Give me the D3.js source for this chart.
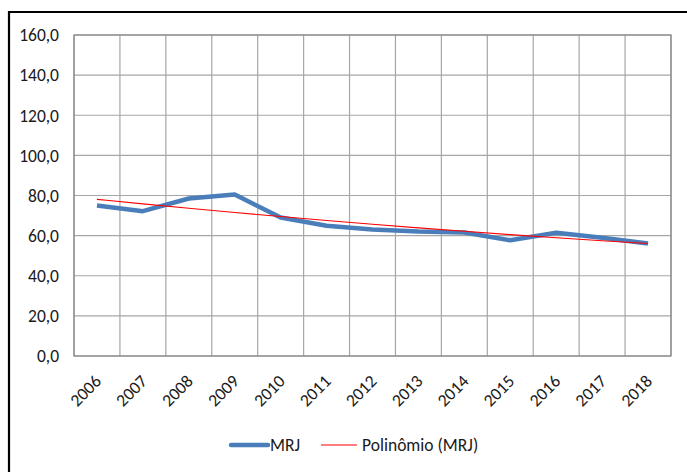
<!DOCTYPE html>
<html>
<head>
<meta charset="utf-8">
<script src="https://cdn.jsdelivr.net/npm/d3@7/dist/d3.min.js"></script>
<style>
  html, body { margin: 0; padding: 0; background: #fff; }
  svg { display: block; }
  text { font-family: Carlito, "Liberation Sans Narrow", "Liberation Sans", sans-serif; fill: #1a1a1a; }
</style>
</head>
<body>
<script>
// Years on the category axis
const years = ["2006","2007","2008","2009","2010","2011","2012","2013","2014","2015","2016","2017","2018"];
// MRJ series values
const mrj = [75.0, 72.2, 78.5, 80.5, 69.0, 64.9, 63.0, 62.0, 61.6, 57.7, 61.4, 58.9, 56.1];
// Value axis ticks
const yTicks = [0, 20, 40, 60, 80, 100, 120, 140, 160];

const W = 687, H = 472;
const plot = { left: 74, top: 35, right: 671, bottom: 356 };
const FS = "17.5px";

// Second-order least-squares trend of the MRJ series
function polyFit2(ys) {
  const s = [0,0,0,0,0], t = [0,0,0];
  ys.forEach((y, i) => {
    let p = 1;
    for (let k = 0; k < 5; k++) { s[k] += p; if (k < 3) t[k] += p * y; p *= i; }
  });
  const A = [[s[0], s[1], s[2]], [s[1], s[2], s[3]], [s[2], s[3], s[4]]];
  const b = t.slice();
  for (let c = 0; c < 3; c++) {
    for (let r = c + 1; r < 3; r++) {
      const f = A[r][c] / A[c][c];
      for (let k = c; k < 3; k++) A[r][k] -= f * A[c][k];
      b[r] -= f * b[c];
    }
  }
  const coef = [0,0,0];
  for (let r = 2; r >= 0; r--) {
    let v = b[r];
    for (let k = r + 1; k < 3; k++) v -= A[r][k] * coef[k];
    coef[r] = v / A[r][r];
  }
  return ys.map((_, i) => coef[0] + coef[1] * i + coef[2] * i * i);
}
const trend = polyFit2(mrj);

const svg = d3.select("body").append("svg").attr("width", W).attr("height", H);

// Chart frame
svg.append("path")
  .attr("d", `M9,${H + 5} L9,12 L${W + 5},12`)
  .attr("fill", "none").attr("stroke", "#000").attr("stroke-width", 2.2);

const x = d3.scaleBand().domain(years).range([plot.left, plot.right]);
const y = d3.scaleLinear().domain([0, 160]).range([plot.bottom, plot.top]);
const fmt = v => d3.format(".1f")(v).replace(".", ",");

// Horizontal gridlines
svg.append("g").selectAll("line").data(yTicks).join("line")
  .attr("x1", plot.left).attr("x2", plot.right)
  .attr("y1", d => y(d)).attr("y2", d => y(d))
  .attr("stroke", "#a6a6a6").attr("stroke-width", 1.2);

// Vertical gridlines at category boundaries
const bounds = years.map(d => x(d)).concat([plot.right]);
svg.append("g").selectAll("line").data(bounds).join("line")
  .attr("x1", d => d).attr("x2", d => d)
  .attr("y1", plot.top).attr("y2", plot.bottom)
  .attr("stroke", "#a6a6a6").attr("stroke-width", 1.2);

// Plot border
svg.append("rect")
  .attr("x", plot.left).attr("y", plot.top)
  .attr("width", plot.right - plot.left).attr("height", plot.bottom - plot.top)
  .attr("fill", "none").attr("stroke", "#868686").attr("stroke-width", 1.2);

// Value axis labels
svg.append("g").selectAll("text").data(yTicks).join("text")
  .attr("x", 59).attr("y", d => y(d))
  .attr("dy", "0.36em")
  .attr("text-anchor", "end")
  .style("font-size", FS)
  .text(fmt);

// Category axis labels, rotated
svg.append("g").selectAll("text").data(years).join("text")
  .attr("transform", d => `translate(${x(d) + x.bandwidth() / 2 + 1},${plot.bottom + 22}) rotate(-45)`)
  .attr("text-anchor", "end")
  .attr("dy", "0.35em")
  .style("font-size", FS)
  .text(d => d);

const cx = (d, i) => x(years[i]) + x.bandwidth() / 2;

// MRJ line
svg.append("path")
  .datum(mrj)
  .attr("d", d3.line().x(cx).y(d => y(d)))
  .attr("fill", "none").attr("stroke", "#4a7ebb").attr("stroke-width", 4.5)
  .attr("stroke-linejoin", "round");

// Polynomial trend line
svg.append("path")
  .datum(trend)
  .attr("d", d3.line().x(cx).y(d => y(d)).curve(d3.curveMonotoneX))
  .attr("fill", "none").attr("stroke", "#ff0000").attr("stroke-width", 1.1);

// Legend
const ly = 445;
const legend = svg.append("g");
legend.append("line").attr("x1", 231).attr("x2", 268).attr("y1", ly).attr("y2", ly)
  .attr("stroke", "#4a7ebb").attr("stroke-width", 4.5).attr("stroke-linecap", "round");
legend.append("text").attr("x", 270).attr("y", ly).attr("dy", "0.36em")
  .style("font-size", FS).text("MRJ");
legend.append("line").attr("x1", 321).attr("x2", 357).attr("y1", ly).attr("y2", ly)
  .attr("stroke", "#ff0000").attr("stroke-width", 1.1);
legend.append("text").attr("x", 362).attr("y", ly).attr("dy", "0.36em")
  .style("font-size", FS).text("Polinômio (MRJ)");
</script>
</body>
</html>
